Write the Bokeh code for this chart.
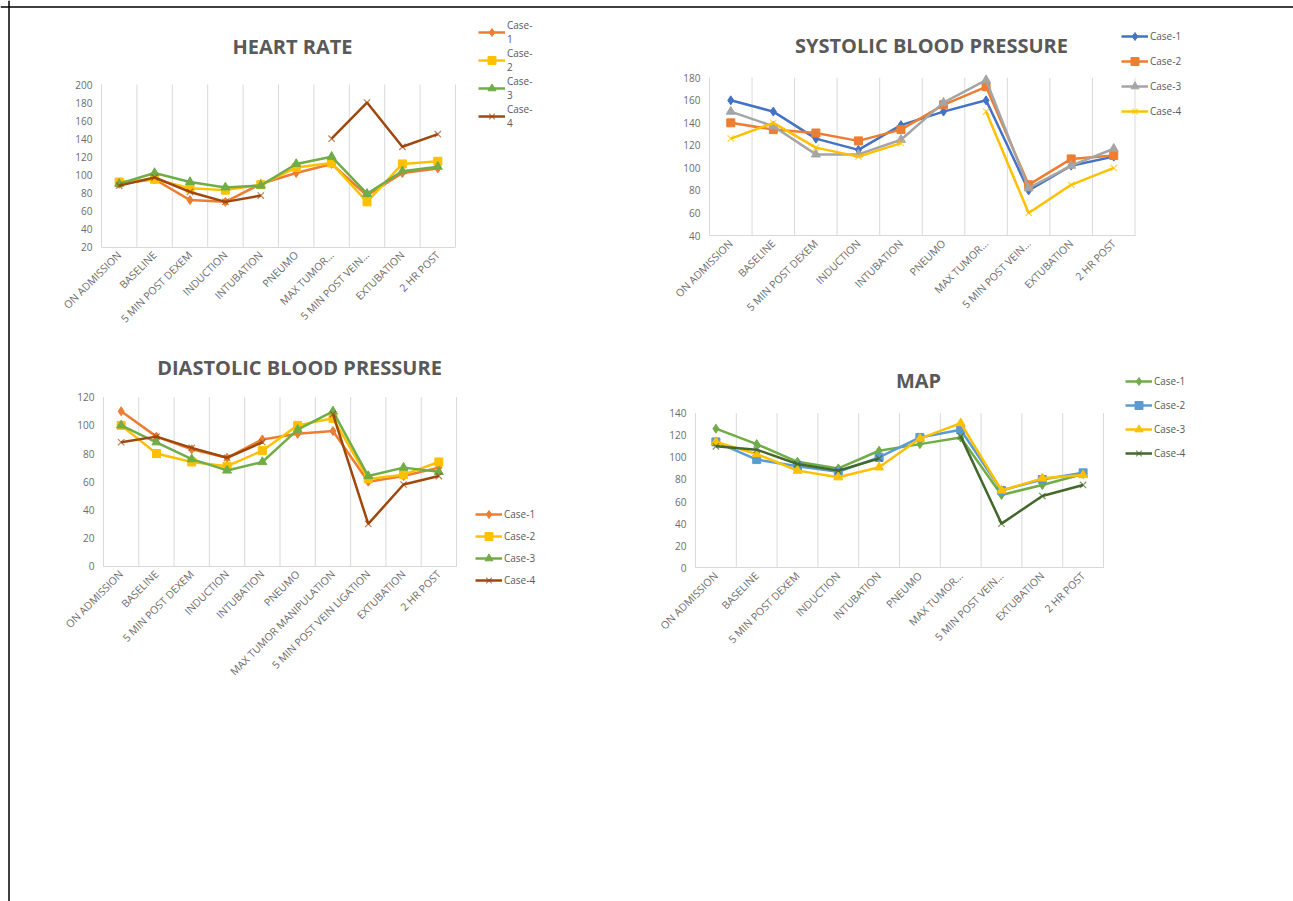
import math
from bokeh.plotting import figure
from bokeh.models import (FixedTicker, Legend, LegendItem, Label, Range1d, LinearAxis, Span)
from bokeh.embed import file_html
from bokeh.resources import INLINE

nan = float("nan")

# ---------------- data ----------------
cats_short = ["ON ADMISSION", "BASELINE", "5 MIN POST DEXEM", "INDUCTION", "INTUBATION",
              "PNEUMO", "MAX TUMOR\u2026", "5 MIN POST VEIN\u2026", "EXTUBATION", "2 HR POST"]
cats_full = ["ON ADMISSION", "BASELINE", "5 MIN POST DEXEM", "INDUCTION", "INTUBATION",
             "PNEUMO", "MAX TUMOR MANIPULATION", "5 MIN POST VEIN LIGATION", "EXTUBATION", "2 HR POST"]

case_labels = ["Case-1", "Case-2", "Case-3", "Case-4"]
case_labels_wrapped = ["Case-\n1", "Case-\n2", "Case-\n3", "Case-\n4"]

hr_case1 = [90, 95, 72, 70, 90, 102, 112, 77, 102, 107]
hr_case2 = [92, 95, 85, 83, 89, 108, 113, 70, 112, 115]
hr_case3 = [90, 102, 92, 86, 88, 112, 120, 79, 104, 109]
hr_case4 = [88, 97, 81, 70, 77, nan, 140, 180, 131, 145]

sbp_case1 = [160, 150, 126, 116, 138, 150, 160, 80, 102, 110]
sbp_case2 = [140, 134, 131, 124, 134, 156, 172, 85, 108, 111]
sbp_case3 = [150, 137, 112, 112, 125, 158, 178, 82, 102, 117]
sbp_case4 = [126, 140, 118, 110, 122, nan, 150, 60, 85, 100]

dbp_case1 = [110, 92, 83, 77, 90, 94, 96, 60, 64, 70]
dbp_case2 = [100, 80, 74, 71, 82, 100, 105, 62, 65, 74]
dbp_case3 = [100, 88, 76, 68, 74, 97, 110, 64, 70, 67]
dbp_case4 = [88, 92, 84, 77, 88, nan, 108, 30, 58, 64]

map_case1 = [126, 112, 96, 90, 106, 112, 118, 66, 75, 85]
map_case2 = [114, 98, 92, 87, 100, 118, 125, 70, 80, 86]
map_case3 = [114, 103, 88, 82, 91, 117, 131, 70, 81, 84]
map_case4 = [110, 107, 94, 88, 99, nan, 119, 40, 65, 75]

markers = ["diamond", "square", "triangle", "x"]
marker_sizes = [9, 8, 9, 9]

TITLE_COLOR = "#595959"
TICK_COLOR = "#6b6b6b"
GRID_COLOR = "#d9d9d9"
FONT = "Open Sans"

W, H = 1293, 901

# one page-sized canvas; default ranges are page pixels (y downwards)
p = figure(width=W, height=H, output_backend="svg", toolbar_location=None,
           x_range=Range1d(0, W), y_range=Range1d(H, 0),
           x_axis_location=None, y_axis_location=None, min_border=0)
p.outline_line_color = None
p.background_fill_color = "white"
p.border_fill_color = "white"
p.grid.visible = False

# page frame lines
p.add_layout(Span(location=6.5, dimension="width", line_color="black", line_width=1.5))
p.add_layout(Span(location=8.5, dimension="height", line_color="black", line_width=1.5))


def add_chart(key, title, cats, series, colors, labels, y_min, y_max,
              box, title_xy, legend_left, legend_bottom, spacing):
    L, R, T, B = box
    n = len(cats)
    kx = (R - L) / n
    x0 = 0.5 - L / kx
    ky = (B - T) / (y_max - y_min)
    ye = y_max + T / ky
    xr, yr = key + "_x", key + "_y"
    p.extra_x_ranges[xr] = Range1d(x0, x0 + W / kx)
    p.extra_y_ranges[yr] = Range1d(ye - H / ky, ye)

    xs = list(range(1, n + 1))
    edges = [i + 0.5 for i in range(n + 1)]
    p.segment(x0=edges, y0=[y_min] * len(edges), x1=edges, y1=[y_max] * len(edges),
              line_color=GRID_COLOR, line_width=1, x_range_name=xr, y_range_name=yr)

    items = []
    for vals, col, mk, ms, lab in zip(series, colors, markers, marker_sizes, labels):
        l = p.line(xs, vals, line_color=col, line_width=2.5, x_range_name=xr, y_range_name=yr)
        if mk == "x":
            s = p.scatter(xs, vals, marker=mk, size=ms, line_color=col, line_width=1.2,
                          line_alpha=0.7, x_range_name=xr, y_range_name=yr)
        else:
            s = p.scatter(xs, vals, marker=mk, size=ms, fill_color=col, line_color=col,
                          x_range_name=xr, y_range_name=yr)
        items.append(LegendItem(label=lab, renderers=[l, s]))

    xa = LinearAxis(x_range_name=xr, y_range_name=yr, fixed_location=y_min,
                    bounds=(0.5, n + 0.5), ticker=FixedTicker(ticks=xs),
                    major_label_overrides={x: c for x, c in zip(xs, cats)},
                    major_label_orientation=math.pi / 4,
                    axis_line_color=GRID_COLOR, major_tick_line_color=None,
                    minor_tick_line_color=None, major_tick_in=0, major_tick_out=0,
                    major_label_standoff=6, major_label_text_font=FONT,
                    major_label_text_font_size="10.5px", major_label_text_color=TICK_COLOR)
    p.add_layout(xa, "below")
    ya = LinearAxis(x_range_name=xr, y_range_name=yr, fixed_location=0.5,
                    bounds=(y_min, y_max), ticker=FixedTicker(ticks=list(range(y_min, y_max + 1, 20))),
                    axis_line_color=None, major_tick_line_color=None,
                    minor_tick_line_color=None, major_tick_in=0, major_tick_out=0,
                    major_label_standoff=9, major_label_text_font=FONT,
                    major_label_text_font_size="10px", major_label_text_color=TICK_COLOR)
    p.add_layout(ya, "left")

    p.add_layout(Label(x=title_xy[0], y=title_xy[1], text=title, text_font=FONT,
                       text_font_style="bold", text_font_size="20px", text_color=TITLE_COLOR,
                       text_align="center", text_baseline="middle"))

    leg = Legend(items=items, location=(legend_left, H - legend_bottom), orientation="vertical")
    leg.border_line_color = None
    leg.background_fill_alpha = 0
    leg.label_text_font = FONT
    leg.label_text_font_size = "10px"
    leg.label_text_color = TITLE_COLOR
    leg.glyph_width = 27
    leg.glyph_height = 20
    leg.label_height = 20
    leg.label_standoff = 2
    leg.spacing = spacing
    leg.padding = 0
    leg.margin = 0
    p.add_layout(leg)


add_chart("hr", "HEART RATE", cats_short, [hr_case1, hr_case2, hr_case3, hr_case4],
          ["#ED7D31", "#FFC000", "#70AD47", "#9E480E"], case_labels_wrapped, 20, 200,
          (101, 455, 84, 246.5), (292, 45.5), 478, 130, -1)
add_chart("sbp", "SYSTOLIC BLOOD PRESSURE", cats_short, [sbp_case1, sbp_case2, sbp_case3, sbp_case4],
          ["#4472C4", "#ED7D31", "#A5A5A5", "#FFC000"], case_labels, 40, 180,
          (709, 1134.5, 77.3, 235), (931, 45), 1121, 121, 5)
add_chart("dbp", "DIASTOLIC BLOOD PRESSURE", cats_full, [dbp_case1, dbp_case2, dbp_case3, dbp_case4],
          ["#ED7D31", "#FFC000", "#70AD47", "#9E480E"], case_labels, 0, 120,
          (103, 456, 396.7, 565.7), (299, 366.5), 475, 589.5, 2)
add_chart("map", "MAP", cats_short, [map_case1, map_case2, map_case3, map_case4],
          ["#70AD47", "#5B9BD5", "#FFC000", "#43682B"], case_labels, 0, 140,
          (695, 1103, 412.7, 567.3), (918, 380), 1125, 463, 4)

open("out.html", "w").write(file_html(p, INLINE))
